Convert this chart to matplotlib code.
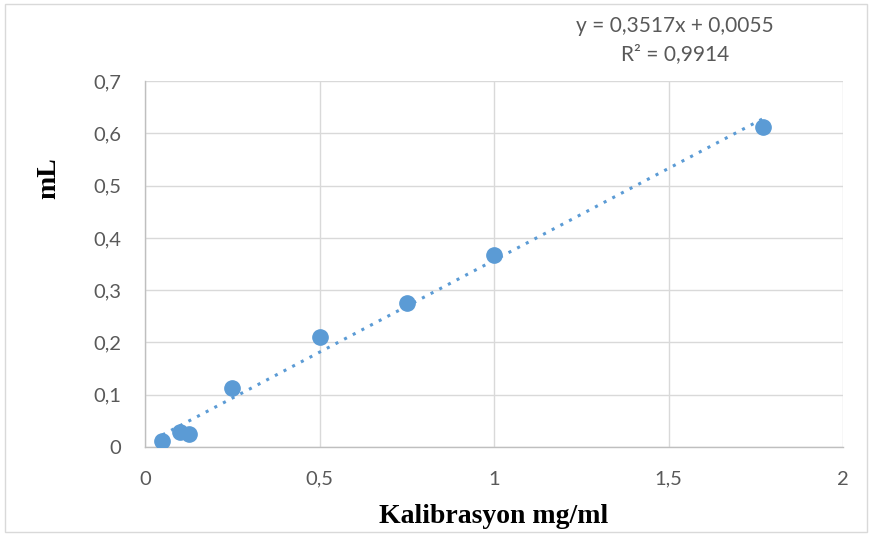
import numpy as np
import matplotlib.pyplot as plt
from matplotlib.patches import Rectangle

# calibration data
konsantrasyon = [0.05, 0.10, 0.125, 0.25, 0.50, 0.75, 1.00, 1.77]
ml_degerleri = [0.012, 0.028, 0.024, 0.113, 0.211, 0.276, 0.368, 0.612]
egim, kesisim = 0.3517, 0.0055
x_ticks = [0, 0.5, 1, 1.5, 2]
y_ticks = [0, 0.1, 0.2, 0.3, 0.4, 0.5, 0.6, 0.7]

mavi = '#5B9BD5'
gri_yazi = '#595959'

fig = plt.figure(figsize=(8.7, 5.34), dpi=100)
ax = fig.add_axes([0.1667, 0.163, 0.8023, 0.685])

# outer chart frame
fig.patches.append(Rectangle((0.006, 0.004), 0.99, 0.988, transform=fig.transFigure,
                             fill=False, edgecolor='#D9D9D9', linewidth=1.0))

x = np.array(konsantrasyon)
y = np.array(ml_degerleri)
xt = np.linspace(x.min(), x.max(), 50)
ax.plot(xt, egim * xt + kesisim, linestyle=(0, (1, 2.2)), color=mavi,
        linewidth=2.2, zorder=2)
ax.plot(x, y, 'o', color=mavi, markersize=11, zorder=3)

ax.set_xlim(0, 2)
ax.set_ylim(0, 0.7)
ax.set_xticks(x_ticks)
ax.set_yticks(y_ticks)
fmt = lambda v: ('%g' % v).replace('.', ',')
ax.set_xticklabels([fmt(v) for v in x_ticks], fontfamily='Lato', fontsize=14.5, color=gri_yazi)
ax.set_yticklabels([fmt(v) for v in y_ticks], fontfamily='Lato', fontsize=14.5, color=gri_yazi)
ax.tick_params(axis='y', length=0, pad=17)
ax.tick_params(axis='x', length=0, pad=17)

ax.grid(True, color='#D9D9D9', linewidth=1.0)
ax.set_axisbelow(True)
for s in ['top', 'right']:
    ax.spines[s].set_visible(False)
for s in ['left', 'bottom']:
    ax.spines[s].set_color('#BFBFBF')
    ax.spines[s].set_linewidth(1.0)

ax.set_xlabel('Kalibrasyon mg/ml', fontfamily='Liberation Serif', fontweight='bold',
              fontsize=20, labelpad=12)
ax.set_ylabel('mL', fontfamily='Liberation Serif', fontweight='bold', fontsize=20)
ax.yaxis.set_label_coords(-0.12, 0.735)

fig.text(0.776, 0.925, 'y = 0,3517x + 0,0055\nR² = 0,9914', ha='center', va='center',
         fontfamily='Lato', fontsize=15, color=gri_yazi, linespacing=1.5)

fig.savefig('out.png', dpi=100)
